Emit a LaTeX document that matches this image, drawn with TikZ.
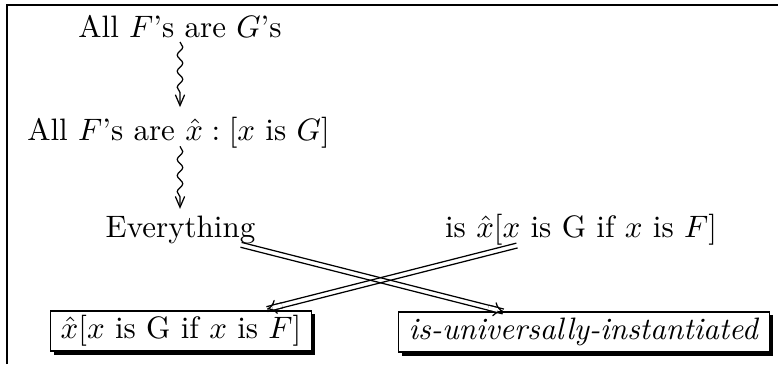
\documentclass[tikz,border=0pt]{standalone}
\usetikzlibrary{calc,decorations.pathmorphing,arrows.meta,shadows}
\tikzset{
  lbl/.style={inner sep=0pt, anchor=base},
  boxed/.style={draw, fill=white, line width=0.45pt, inner xsep=3.3pt, inner ysep=1.5pt,
    text height=7.5pt, text depth=2.5pt,
    drop shadow={fill=black, opacity=1, shadow xshift=1.1pt, shadow yshift=-1.1pt}},
  squig/.style={decorate, decoration={snake, amplitude=0.9pt, segment length=5.2pt, post length=2.5pt},
    line width=0.4pt, -{Straight Barb[length=3.5pt,width=3pt]}},
  rail/.style={line width=0.4pt},
  dbltip/.style={double, double distance=1.2pt, line width=0.4pt, -{Implies}}
}
\begin{document}
\begin{tikzpicture}[x=0.3226pt,y=-0.3226pt]
\useasboundingbox (0,0) rectangle (778,364);
\draw[line width=0.5pt] (7,364) -- (7,5) -- (778,5);

\node[lbl] (A) at (180,37) {All $F$'s are $G$'s};
\node[lbl] (B) at (178.5,140) {All $F$'s are $\hat{x} : [x$ is $G]$};
\node[lbl] (C) at (180.5,237) {Everything};
\node[lbl] (D) at (581,237) {is $\hat{x}[x$ is G if $x$ is $F]$};
\node[boxed] (L) at (181,331) {$\hat{x}[x$ is G if $x$ is $F]$};
\node[boxed] (R) at (584,332) {\textit{is-universally-instantiated}};

\draw[squig] ($(A.base)+(0,5)$) -- ($(A.base |- B.north)+(0,-9)$);
\draw[squig] ($(A.base |- B.south)+(0,-2)$) -- ($(A.base |- C.north)+(0,-6)$);

% Everything -> is-universally-instantiated
\coordinate (p1) at ($(C.center)!0.15!(R.center)$);
\coordinate (p2) at ($(C.center)!0.80!(R.center)$);
\draw[rail] ($(p1)!0.8pt!90:(p2)$) -- ($(p2)!0.8pt!-90:(p1)$);
\draw[rail] ($(p1)!0.8pt!-90:(p2)$) -- ($(p2)!0.8pt!90:(p1)$);
\draw[dbltip] ($(p2)!5pt!(p1)$) -- (p2);

% is x[...] -> x[...]
\coordinate (q1) at ($(D.center)!0.16!(L.center)$);
\coordinate (q2) at ($(D.center)!0.785!(L.center)$);
\draw[rail] ($(q1)!0.8pt!90:(q2)$) -- ($(q2)!0.8pt!-90:(q1)$);
\draw[rail] ($(q1)!0.8pt!-90:(q2)$) -- ($(q2)!0.8pt!90:(q1)$);
\draw[dbltip] ($(q2)!5pt!(q1)$) -- (q2);
\end{tikzpicture}
\end{document}
